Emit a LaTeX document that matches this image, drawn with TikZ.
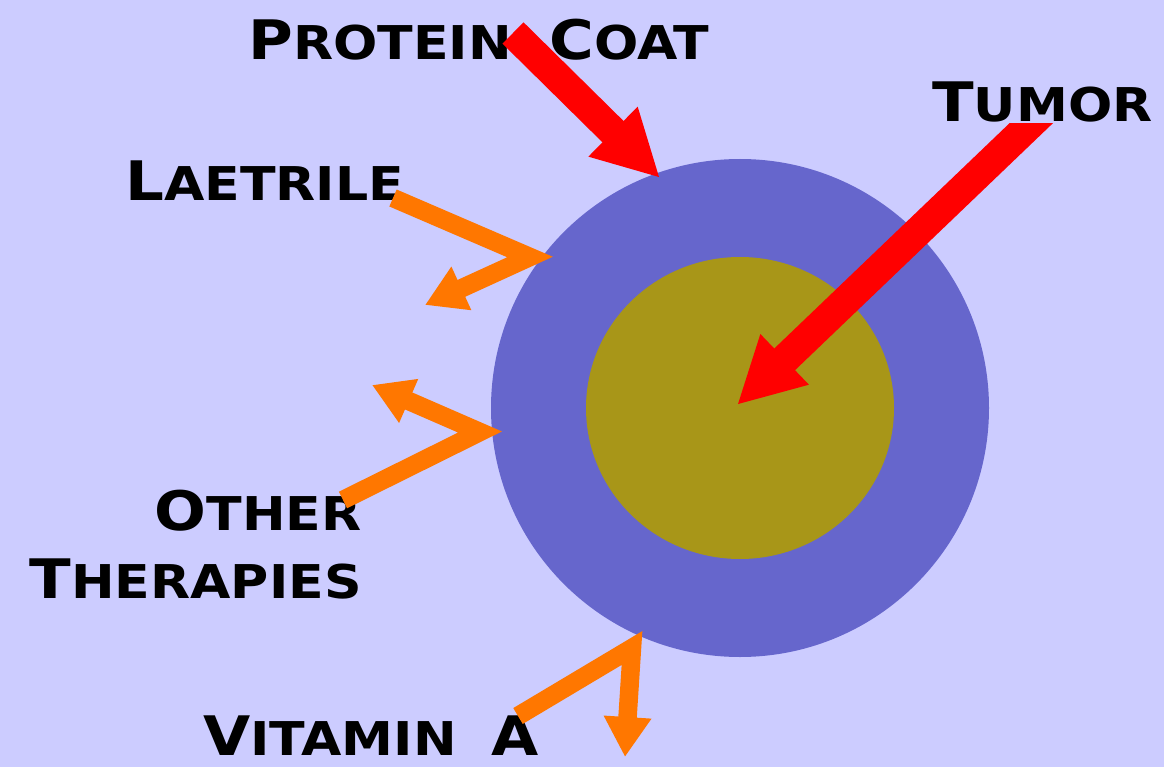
\documentclass[tikz,border=0pt]{standalone}
\usepackage{fontspec}
\newfontfamily\cpfont[FakeStretch=1.12]{DejaVu Sans}
\definecolor{lavender}{RGB}{204, 204, 255}
\definecolor{coatblue}{RGB}{102, 102, 204}
\definecolor{tumorolive}{RGB}{168, 150, 24}
\definecolor{hotred}{RGB}{255, 0, 0}
\definecolor{therorange}{RGB}{255, 119, 0}
\usetikzlibrary{arrows.meta, calc}
\newcommand{\cpg}[2]{{\fontsize{31}{41}\selectfont #1}{\fontsize{26.5}{41}\selectfont #2}}
\tikzset{
	label/.style={inner sep=0pt, font=\cpfont\bfseries, text=black},
	redarrow/.style={-{Triangle[length=1.32cm, width=1.3cm]}, line width=0.6cm, draw=hotred},
	orarrow/.style={-{Triangle[length=0.8cm, width=0.9cm]}, line width=0.37cm, draw=therorange, line join=miter},
}

\begin{document}
\begin{tikzpicture}[x=0.02cm, y=-0.02cm]
		\fill[lavender] (0,0) rectangle (1164,767);
		\fill[coatblue] (740,408) circle[radius=249];
		\fill[tumorolive] (740,408) circle[x radius=154, y radius=151];
		\coordinate (core) at (737,405);
		% labels
		\node[label, anchor=base west] (coat) at (248,60) {\cpg{P}{ROTEIN}\hspace{0.75cm}\cpg{C}{OAT}};
		\node[label, anchor=base west] (tumor) at (932,122) {\cpg{T}{UMOR}};
		\node[label, anchor=base west] (laet) at (125,200) {\cpg{L}{AETRILE}};
		\node[label, anchor=base east] (other) at (362,530) {\cpg{O}{THER}};
		\node[label, anchor=base east] (ther) at (362,598) {\cpg{T}{HERAPIES}};
		\node[label, anchor=base west] (vita) at (203,755) {\cpg{V}{ITAMIN}\hspace{0.7cm}\cpg{A}{}};
		% red arrows
		\coordinate (coatstart) at (513,33);
		\coordinate (coattip) at (660,178);
		\coordinate (tumorstart) at (1045,110);
		\draw[redarrow] (coatstart) -- (coattip);
		\begin{scope}
			\clip (0,124) rectangle (1164,767);
			\draw[redarrow] (tumorstart) -- (core);
		\end{scope}
		% orange arrows
		\coordinate (laetstart) at (393,198);
		\coordinate (laetbend) at (530,257);
		\coordinate (laettip) at (425,305);
		\draw[orarrow] (laetstart) -- (laetbend) -- (laettip);
		\coordinate (othstart) at (343,500);
		\coordinate (othbend) at (480,432);
		\coordinate (othtip) at (372,385);
		\draw[orarrow] (othstart) -- (othbend) -- (othtip);
		\coordinate (vitstart) at (518,716);
		\coordinate (vitbend) at (632,648);
		\coordinate (vittip) at (625,757);
		\draw[orarrow] (vitstart) -- (vitbend) -- (vittip);
	\end{tikzpicture}
\end{document}
